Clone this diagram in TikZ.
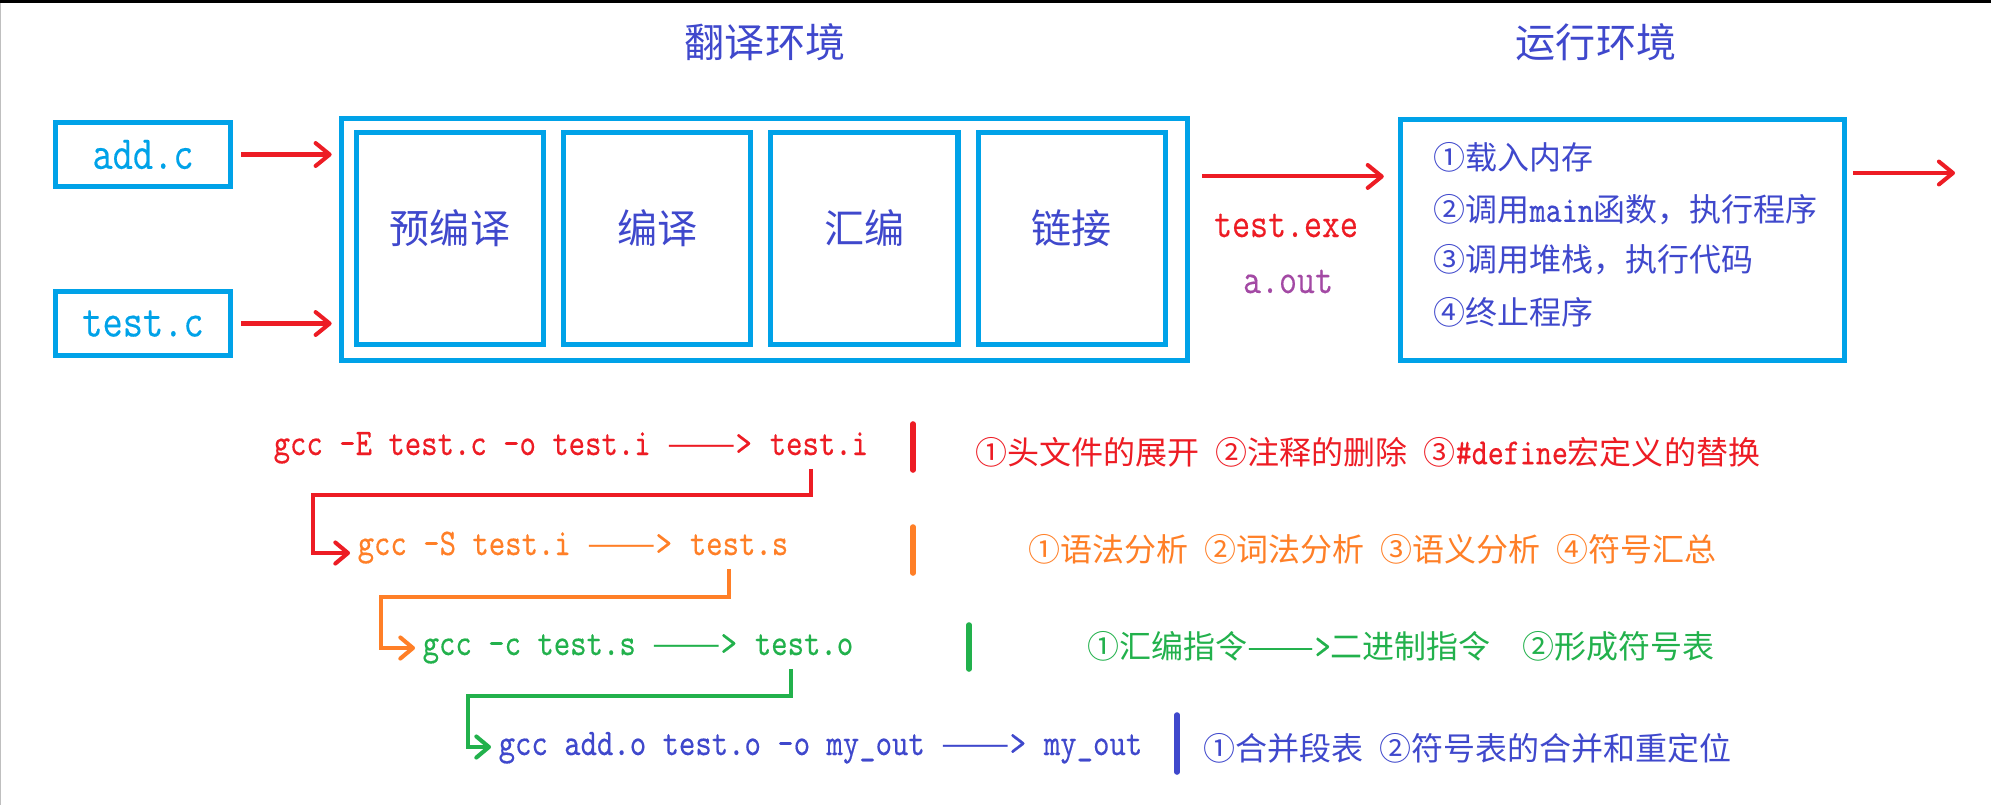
\documentclass[tikz,border=0pt]{standalone}
\usepackage{fontspec}
\usepackage{graphicx}
\setmainfont{Noto Sans CJK SC}
\setmonofont[Scale=1.15, FakeStretch=0.83, FakeBold=0.3]{Latin Modern Mono}
\usetikzlibrary{arrows.meta,positioning,calc}

\definecolor{paintcyan}{RGB}{0,162,232}
\definecolor{paintred}{RGB}{237,28,36}
\definecolor{paintorange}{RGB}{255,127,39}
\definecolor{paintgreen}{RGB}{34,177,76}
\definecolor{paintindigo}{RGB}{63,72,204}
\definecolor{paintpurple}{RGB}{163,73,164}

% full-width double dash
\newcommand{\dashpair}{\scalebox{1.25}[1]{\rmfamily ——}}

\tikzset{
  bluebox/.style={draw=paintcyan, line width=1.45pt, inner sep=0pt},
  srcbox/.style={bluebox, minimum width=1.75cm, minimum height=0.64cm,
    text=paintcyan, font=\fontsize{11.7}{14}\ttfamily},
  stagebox/.style={bluebox, minimum width=1.87cm, minimum height=2.12cm,
    text=paintindigo, text height=0.35cm, text depth=0.25cm,
    font=\fontsize{11.4}{14}\selectfont},
  envtitle/.style={text=paintindigo, inner sep=0pt, font=\fontsize{11.4}{14}\selectfont},
  runitem/.style={anchor=west, inner sep=0pt, text=paintindigo, font=\fontsize{9.1}{11}\selectfont},
  outname/.style={anchor=base, inner sep=0pt, font=\fontsize{10.4}{12}\ttfamily},
  gccline/.style={anchor=base west, inner sep=0pt, font=\fontsize{9.3}{11}\ttfamily},
  gccnote/.style={anchor=west, inner sep=0pt, font=\fontsize{9.1}{11}\selectfont},
  feedarrow/.style={-{Straight Barb[length=4pt,width=6.5pt,round]}, line width=1.15pt, paintred},
  stepflow/.style={-{Straight Barb[length=3.6pt,width=6pt,round]}, line width=1.15pt,
    shorten <=0.13cm, shorten >=0.07cm},
  sepbar/.style={line width=1.6pt, line cap=round},
}

\begin{document}
\begin{tikzpicture}[x=0.01cm, y=-0.01cm]
  \useasboundingbox (0,0) rectangle (1991,805);
  \fill[black] (0,0) rectangle (1991,3);
  \draw[gray!50, line width=0.3pt] (0.5,3) -- (0.5,805);

  % environment titles
  \node[envtitle] (transtitle) at (765,42) {翻译环境};
  \node[envtitle] (runtitle) at (1596,42) {运行环境};

  % source files
  \node[srcbox] (addc) at (143,154.5) {add.c};
  \node[srcbox] (testc) at (143,323.5) {test.c};

  % translation environment
  \node[bluebox, minimum width=8.46cm, minimum height=2.42cm] (trans) at (764.5,239.5) {};
  \node[stagebox] (pre) at (450,238.5) {预编译};
  \node[stagebox, right=0.15cm of pre] (comp) {编译};
  \node[stagebox, right=0.15cm of comp] (asm) {汇编};
  \node[stagebox, right=0.15cm of asm] (link) {链接};

  \draw[feedarrow, shorten <=0.08cm, shorten >=0.07cm] (addc.east) -- (addc.east -| trans.west);
  \draw[feedarrow, shorten <=0.08cm, shorten >=0.07cm] (testc.east) -- (testc.east -| trans.west);

  % running environment
  \node[bluebox, minimum width=4.44cm, minimum height=2.41cm] (run) at (1622.5,240) {};
  \node[runitem] (load) at (1433,157) {①载入内存};
  \node[runitem] (callmain) at (1433,210) {②调用\texttt{main}函数，执行程序};
  \node[runitem] (callstack) at (1433,260) {③调用堆栈，执行代码};
  \node[runitem] (halt) at (1433,312) {④终止程序};

  \draw[feedarrow, shorten <=0.12cm, shorten >=0.14cm]
    ([yshift=0.63cm]trans.east) -- ([yshift=0.63cm]trans.east -| run.west);
  \node[outname, text=paintred] (exe) at (1286,237) {test.exe};
  \node[outname, text=paintpurple] (aout) at (1288,293) {a.out};
  \coordinate (beyond) at (1955,173);
  \draw[feedarrow, shorten <=0.06cm] (run.east |- beyond) -- (beyond);

  % gcc steps
  \node[gccline, text=paintred] (cmdE) at (273,455) {gcc -E test.c -o test.i \dashpair>};
  \node[gccline, text=paintred] (outI) at ([xshift=0.164cm]cmdE.base east) {test.i};
  \node[gccline, text=paintorange] (cmdS) at (357,555) {gcc -S test.i \dashpair>};
  \node[gccline, text=paintorange] (outS) at ([xshift=0.164cm]cmdS.base east) {test.s};
  \node[gccline, text=paintgreen] (cmdC) at (422,655) {gcc -c test.s \dashpair>};
  \node[gccline, text=paintgreen] (outO) at ([xshift=0.164cm]cmdC.base east) {test.o};
  \node[gccline, text=paintindigo] (cmdL) at (498,755) {gcc add.o test.o -o my\_out \dashpair>};
  \node[gccline, text=paintindigo] (outX) at ([xshift=0.164cm]cmdL.base east) {my\_out};

  \draw[sepbar, paintred] (913,424) -- (913,470);
  \draw[sepbar, paintorange] (913,527) -- (913,573);
  \draw[sepbar, paintgreen] (969,625) -- (969,669);
  \draw[sepbar, paintindigo] (1177,715) -- (1177,772);

  \node[gccnote, text=paintred] (noteE) at (975,452)
    {①头文件的展开\enspace②注释的删除\enspace③\texttt{\#define}宏定义的替换};
  \node[gccnote, text=paintorange] (noteS) at (1028,549)
    {①语法分析\enspace②词法分析\enspace③语义分析\enspace④符号汇总};
  \node[gccnote, text=paintgreen] (noteC) at (1087,646)
    {①汇编指令\dashpair\texttt{>}二进制指令\quad②形成符号表};
  \node[gccnote, text=paintindigo] (noteL) at (1203,748)
    {①合并段表\enspace②符号表的合并和重定位};

  \draw[stepflow, paintred] ([xshift=-0.08cm]outI.south)
    |- ($(cmdS.base west)+(-44,-60)$) |- ([yshift=0.02cm]cmdS.base west);
  \draw[stepflow, paintorange] ([xshift=-0.1cm]outS.south)
    |- ($(cmdC.base west)+(-41,-58)$) |- ([yshift=0.07cm]cmdC.base west);
  \draw[stepflow, paintgreen] ([xshift=-0.13cm]outO.south)
    |- ($(cmdL.base west)+(-30,-59)$) |- ([yshift=0.08cm]cmdL.base west);
\end{tikzpicture}
\end{document}
